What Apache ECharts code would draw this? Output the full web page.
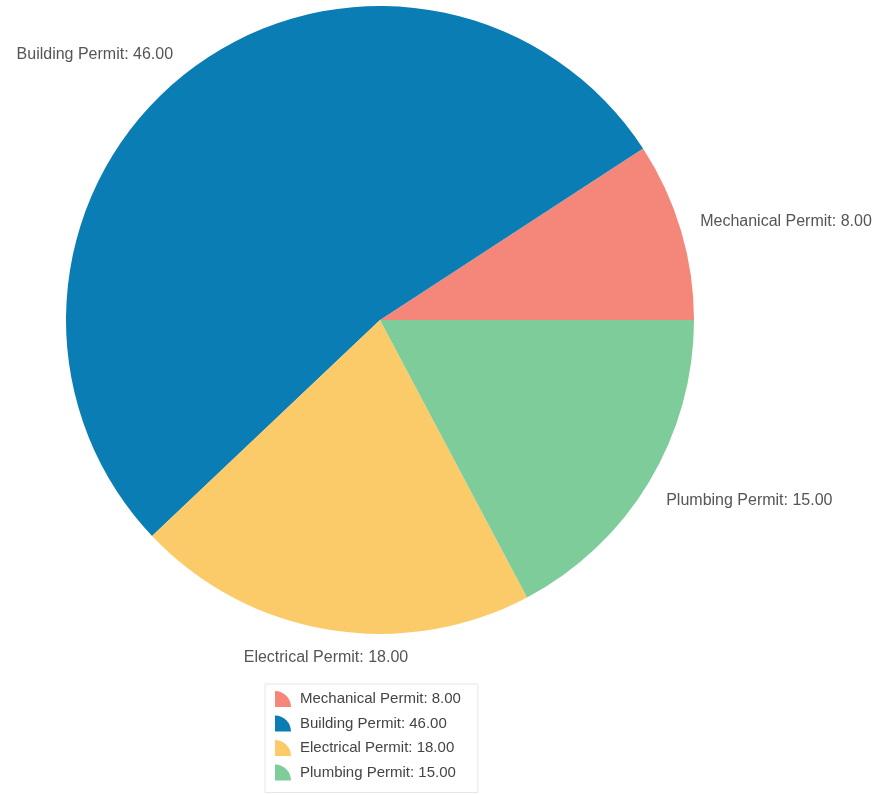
<!DOCTYPE html>
<html>
<head>
<meta charset="utf-8">
<script src="https://cdn.jsdelivr.net/npm/echarts@6/dist/echarts.min.js"></script>
<style>
html,body{margin:0;padding:0;background:#fff;}
#main{width:884px;height:795px;}
</style>
</head>
<body>
<div id="main"></div>
<script>
// 数据
var names = ['Mechanical Permit', 'Building Permit', 'Electrical Permit', 'Plumbing Permit'];
var values = [8, 46, 18, 15];
var colors = ['#f4877a', '#0b7db5', '#fbcb6a', '#7dcc9a'];

var cx = 380, cy = 320, r = 314;
var total = values.reduce(function (a, b) { return a + b; }, 0);

// 标签贴着半径方向摆放
function placeLabel(params) {
	var before = 0;
	for (var i = 0; i < params.dataIndex; i++) before += values[i];
	var mid = (before + values[params.dataIndex] / 2) / total * Math.PI * 2;
	var c = Math.cos(mid), s = Math.sin(mid);
	var d = r + 20;
	var align = c > 0.3 ? 'left' : (c < -0.3 ? 'right' : 'center');
	var valign = s > 0.2 ? 'bottom' : (s < -0.2 ? 'top' : 'middle');
	return {
		x: cx + d * c,
		y: cy - d * s + (valign == 'bottom' ? 5 : 0),
		align: align,
		verticalAlign: valign
	};
}

var data = names.map(function (n, i) {
	return {name: n, value: values[i], itemStyle: {color: colors[i]}};
});

var myChart = echarts.init(document.getElementById('main'));
var option = {
	animation: false,
	legend: {
		orient: 'vertical',
		left: 265,
		top: 684,
		padding: [7, 17, 12, 10],
		borderColor: '#e6e6e6',
		borderWidth: 1,
		itemWidth: 24,
		itemHeight: 16,
		itemGap: 8.5,
		icon: 'path://M0,0 A10,10 0 0 1 10,10 L0,10 Z',
		textStyle: {
			fontFamily: 'Liberation Sans',
			fontSize: 15,
			color: '#444'
		},
		formatter: function (name) {
			return name + ': ' + values[names.indexOf(name)].toFixed(2);
		},
		data: names
	},
	series: [
		{
			type: 'pie',
			center: [cx, cy],
			radius: [0, r],
			startAngle: 0,
			clockwise: false,
			label: {
				show: true,
				position: 'outside',
				overflow: 'none',
				edgeDistance: 0,
				fontFamily: 'Liberation Sans',
				fontSize: 16,
				color: '#555',
				formatter: function (p) {
					return p.name + ': ' + p.value.toFixed(2);
				}
			},
			labelLine: {show: false},
			labelLayout: placeLabel,
			emphasis: {disabled: true},
			data: data
		}
	]
};
myChart.setOption(option);
</script>
</body>
</html>
